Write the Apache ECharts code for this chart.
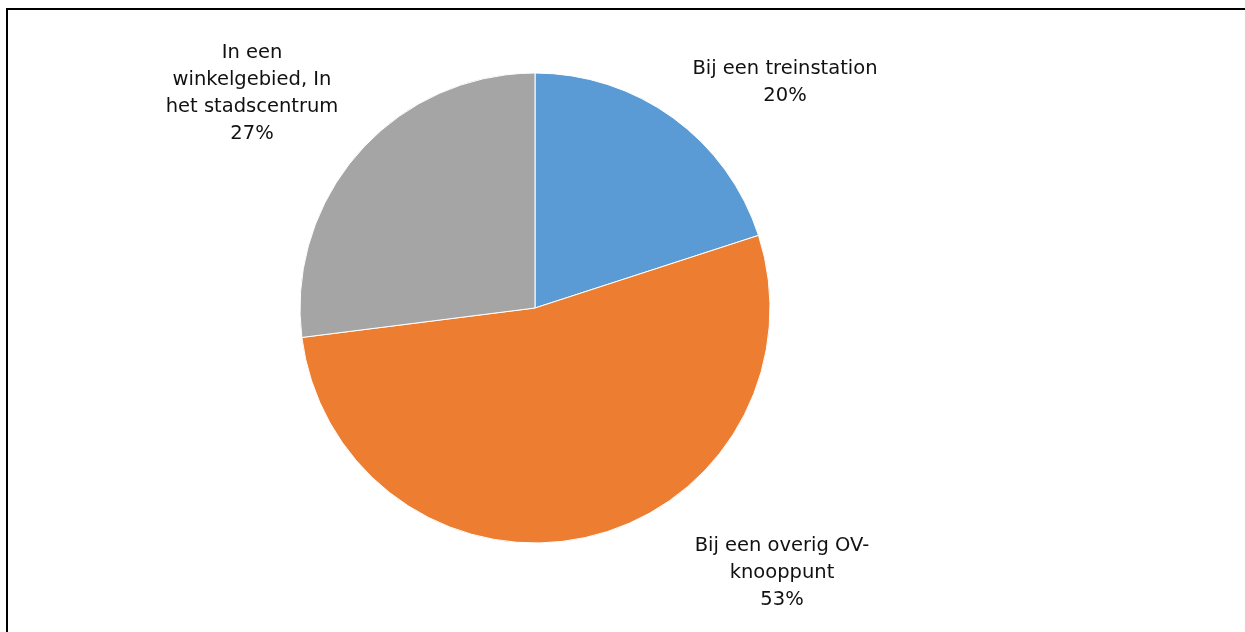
<!DOCTYPE html>
<html>
<head>
<meta charset="utf-8">
<script src="https://cdn.jsdelivr.net/npm/echarts@6/dist/echarts.min.js"></script>
<style>
  html, body { margin: 0; padding: 0; background: #fff; }
  #chart { width: 1245px; height: 632px; }
</style>
</head>
<body>
<div id="chart"></div>
<script>
// Location categories and their shares (%)
const categories = [
  'Bij een treinstation',
  'Bij een overig OV-\nknooppunt',
  'In een\nwinkelgebied, In\nhet stadscentrum'
];
const shares = [20, 53, 27];
const colors = ['#5B9BD5', '#ED7D31', '#A5A5A5'];

// Label anchor points (block centres) for each slice
const labelSpots = [
  { x: 785, y: 82 },
  { x: 782, y: 573 },
  { x: 252, y: 93 }
];

const chart = echarts.init(document.getElementById('chart'), null, { renderer: 'canvas' });

chart.setOption({
  animation: false,
  backgroundColor: '#ffffff',
  graphic: [{
    type: 'rect',
    shape: { x: 7, y: 9, width: 1300, height: 700 },
    style: { fill: 'none', stroke: '#000000', lineWidth: 2 },
    silent: true
  }],
  series: [{
    type: 'pie',
    center: [535, 308],
    radius: 235,
    startAngle: 90,
    clockwise: true,
    data: categories.map((name, i) => ({
      name: name,
      value: shares[i],
      itemStyle: { color: colors[i] }
    })),
    itemStyle: { borderColor: '#ffffff', borderWidth: 1 },
    label: {
      show: true,
      position: 'outside',
      formatter: p => p.name + '\n' + p.value + '%',
      fontFamily: 'DejaVu Sans, sans-serif',
      fontSize: 19.5,
      lineHeight: 27,
      color: '#111111',
      align: 'center'
    },
    labelLine: { show: false },
    labelLayout: function (params) {
      const s = labelSpots[params.dataIndex];
      return { x: s.x, y: s.y, align: 'center', verticalAlign: 'middle' };
    },
    emphasis: { disabled: true }
  }]
});
</script>
</body>
</html>
